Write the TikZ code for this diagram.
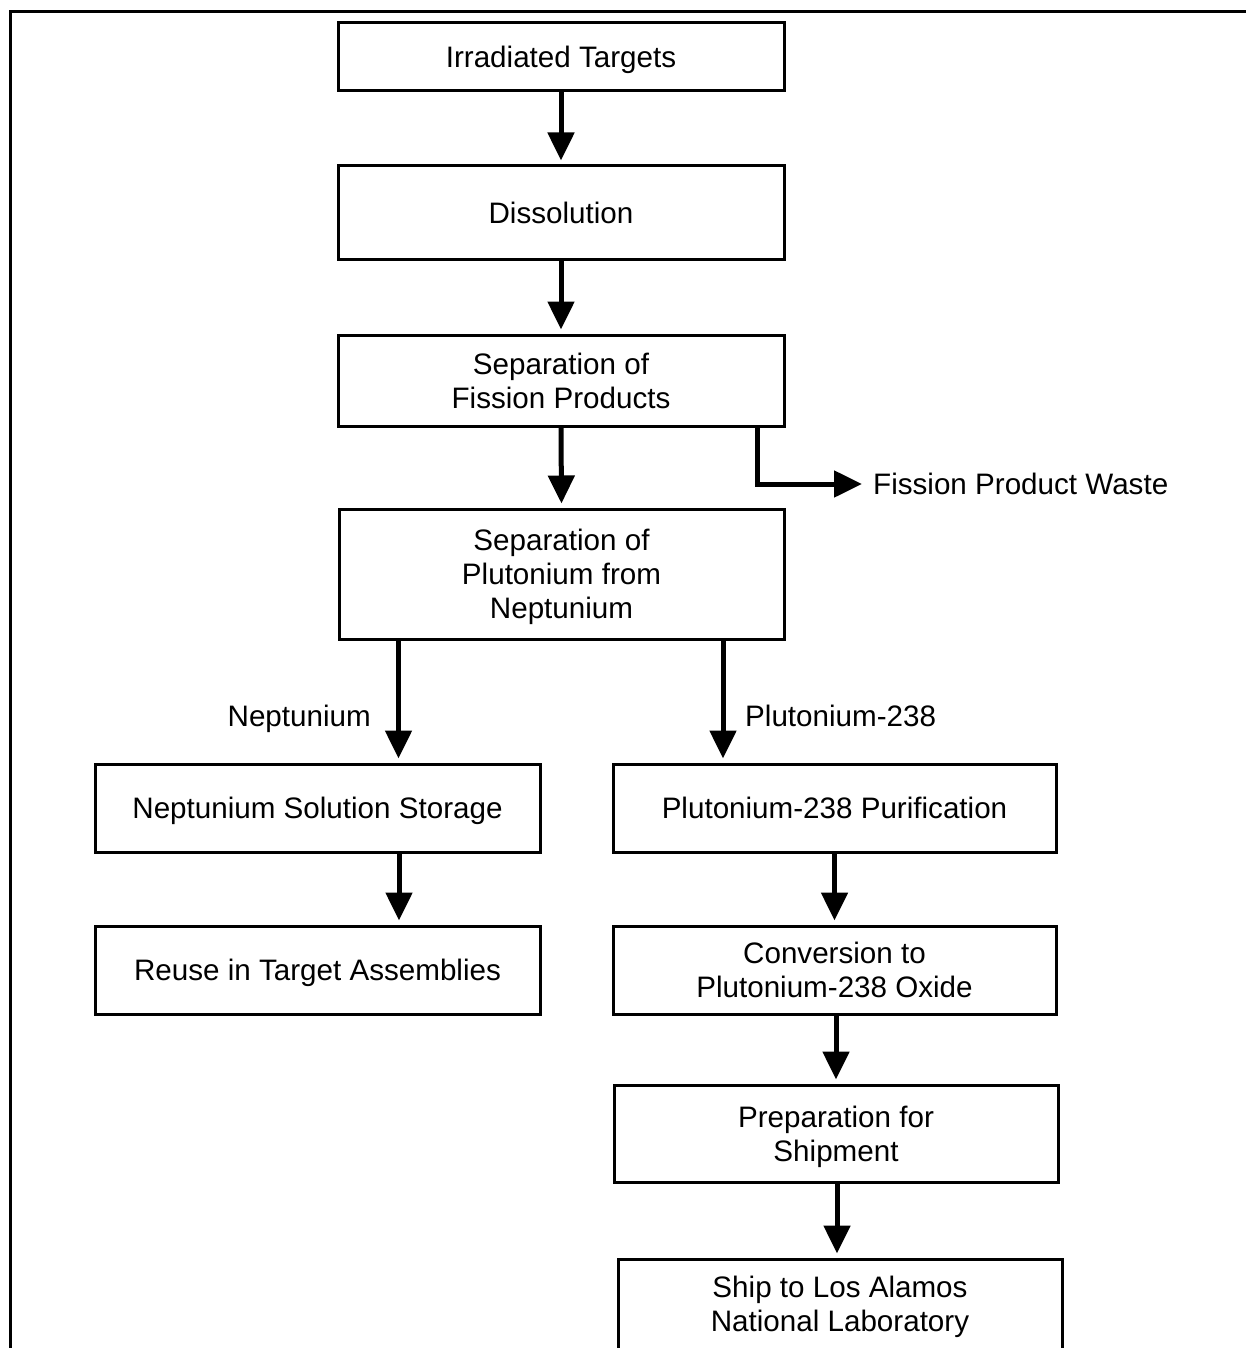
\documentclass[tikz,border=0pt]{standalone}
\usepackage{fontspec}
\setmainfont{Liberation Sans}
\usetikzlibrary{arrows.meta,calc}
\newcommand{\fs}{\fontsize{29.6}{33.8}\selectfont}
\begin{document}
\begin{tikzpicture}[x=1pt,y=-1pt,
  box/.style={draw, line width=3pt, inner sep=0pt, align=center, font=\fs, text depth=0pt},
  lbl/.style={inner sep=0pt, font=\fs},
  arr/.style={line width=5pt, -{Triangle[length=28pt,width=26pt]}, shorten >=4pt},
  frame/.style={line width=3pt}]
\useasboundingbox (0,0) rectangle (1246,1348);
\clip (0,0) rectangle (1246,1348);
\coordinate (fa) at (1250,11.5);
\coordinate (fb) at (10.5,11.5);
\coordinate (fc) at (10.5,1352);
\draw[frame] (fa) -- (fb) -- (fc);

\node[box, minimum width=446pt, minimum height=68pt] (b1) at (561,57) {Irradiated Targets};
\node[box, minimum width=446pt, minimum height=93pt] (b2) at (561,212.5) {Dissolution};
\node[box, minimum width=446pt, minimum height=91pt] (b3) at (561,380.5) {Separation of\\Fission Products};
\node[box, minimum width=445pt, minimum height=130pt] (b4) at (561.5,574) {Separation of\\Plutonium from\\Neptunium};
\node[box, minimum width=445pt, minimum height=88pt] (b5) at (317.5,808) {Neptunium Solution Storage};
\node[box, minimum width=445pt, minimum height=88pt] (b6) at (317.5,970) {Reuse in Target Assemblies};
\node[box, minimum width=443pt, minimum height=88pt] (b7) at (834.5,808) {Plutonium-238 Purification};
\node[box, minimum width=443pt, minimum height=88pt, text depth=] (b8) at (834.5,970) {Conversion to\\Plutonium-238 Oxide};
\node[box, minimum width=444pt, minimum height=97pt] (b9) at (836,1133.5) {Preparation for\\Shipment};
\node[box, minimum width=444pt, minimum height=90pt] (b10) at (840,1304) {Ship to Los Alamos\\National Laboratory};

\node[lbl, anchor=west] (waste) at (873,484) {Fission Product Waste};
\node[lbl, anchor=east] (nep) at (371,719) {Neptunium};
\node[lbl, anchor=west] (plu) at (745,716) {Plutonium-238};

\draw[arr] (b1.south) -- (b2.north);
\draw[arr] (b2.south) -- (b3.north);
\draw[arr] (b3.south) -- (b4.north);
\draw[arr, shorten >=11pt] ([xshift=-28.5pt]b3.south east) |- (waste.west);
\draw[arr] ([xshift=-163pt]b4.south) -- ([xshift=-163pt]b4.south |- b5.north);
\draw[arr] ([xshift=161.5pt]b4.south) -- ([xshift=161.5pt]b4.south |- b7.north);
\draw[arr] ([xshift=81.5pt]b5.south) -- ([xshift=81.5pt]b5.south |- b6.north);
\draw[arr] (b7.south) -- (b8.north);
\draw[arr] ([xshift=1.5pt]b8.south) -- ([xshift=1.5pt]b8.south |- b9.north);
\draw[arr] ([xshift=1pt]b9.south) -- ([xshift=1pt]b9.south |- b10.north);
\end{tikzpicture}
\end{document}
